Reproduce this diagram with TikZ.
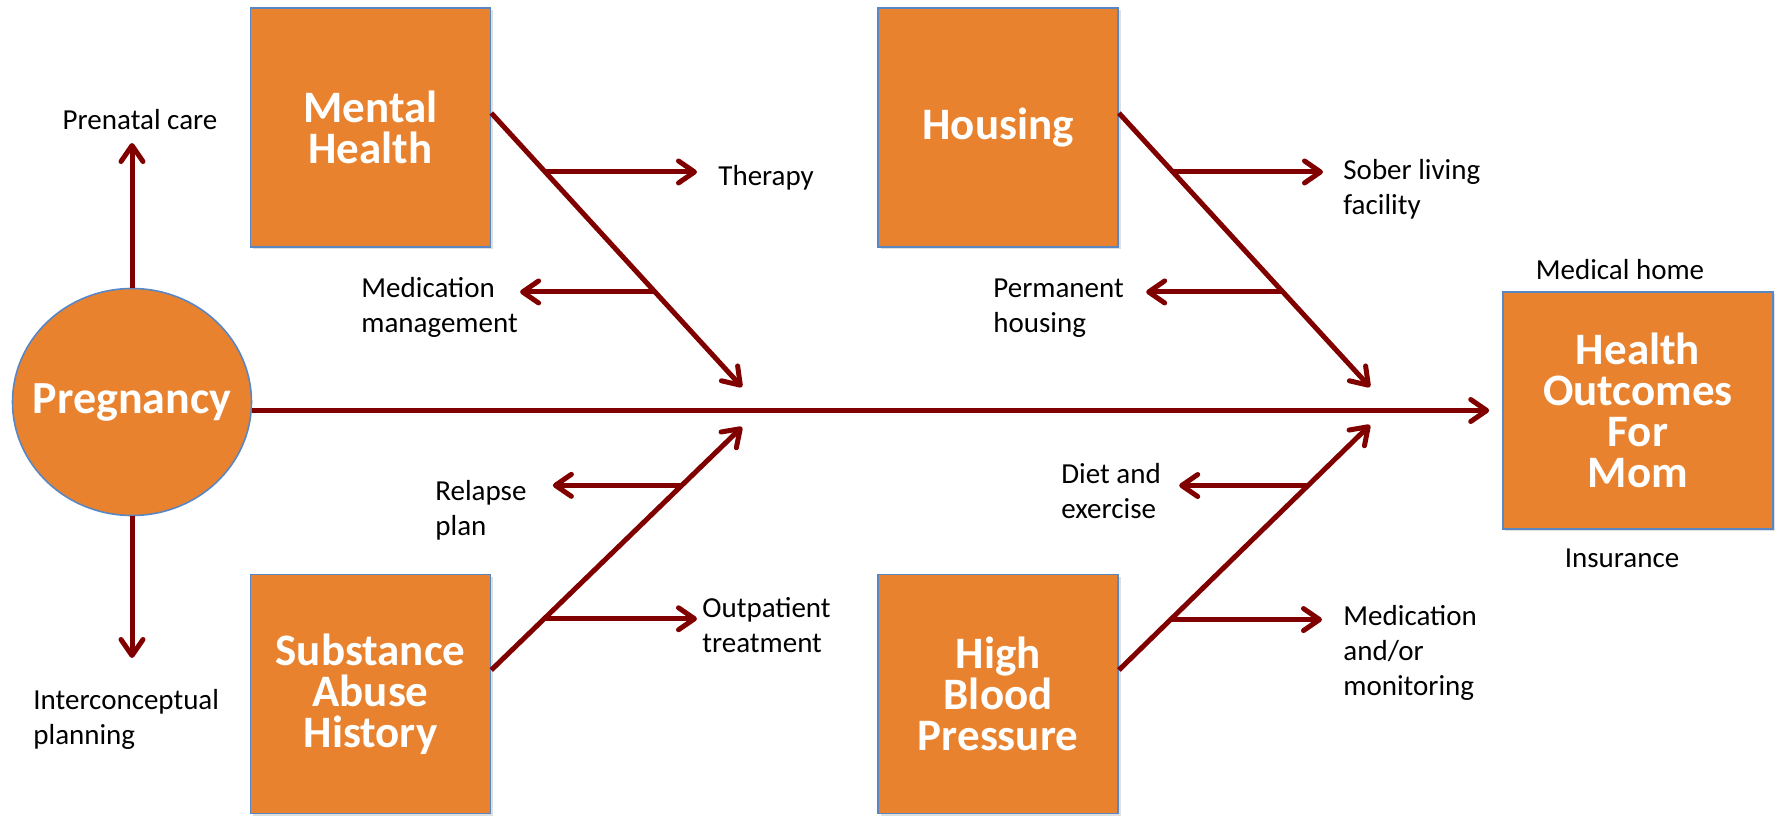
\documentclass[tikz,border=0pt]{standalone}
\usepackage{fontspec}
\setmainfont{Carlito}
\usepackage{tikz}
\usetikzlibrary{shapes,arrows.meta,positioning,calc,shadows}

\definecolor{boxfill}{RGB}{233,130,46}
\definecolor{boxline}{RGB}{88,135,196}
\definecolor{arrowred}{RGB}{128,0,0}

\begin{document}
\begin{tikzpicture}[x=0.5pt, y=-0.5pt,
    box/.style={rectangle, draw=boxline, line width=0.8pt, fill=boxfill, text=white,
        font=\bfseries\fontsize{22.5}{20.5}\selectfont, align=center,
        minimum width=120pt, minimum height=119.5pt,
        drop shadow={shadow xshift=1.2pt, shadow yshift=-1.2pt, opacity=0.25}},
    lbl/.style={font=\fontsize{14.5}{17.5}\selectfont, align=left, anchor=west, inner sep=0pt},
    arr/.style={draw=arrowred, line width=2.5pt, -{Straight Barb[length=8pt,width=11pt,round]}}]
    \useasboundingbox (0,0) rectangle (1779,815);

    % causes and effect
    \node (preg) [ellipse, draw=boxline, line width=0.8pt, fill=boxfill, minimum width=119.5pt, minimum height=113.5pt,
        label={[text=white, font=\bfseries\fontsize{23}{20}\selectfont]center:Pregnancy}] at (132,402) {};
    \node (mh) [box] at (370.5,127.5) {Mental\\Health};
    \node (ho) [box, right=193pt of mh] {Housing};
    \node (sa) [box, below=163pt of mh] {Substance\\Abuse\\History};
    \node (bp) [box, below=163pt of ho] {High\\Blood\\Pressure};
    \node (hc) [box, minimum width=135pt, minimum height=118.5pt] at (1638,410.5) {Health\\Outcomes\\For\\Mom};

    % labels
    \node (prenatal) [lbl, anchor=center] at (140,120) {Prenatal care};
    \node (intercon) [lbl] at (33,719.5) {Interconceptual\\planning};
    \node (ther) [lbl] at (718,178) {Therapy};
    \node (medm) [lbl] at (361,307) {Medication\\management};
    \node (sober) [lbl] at (1343,189) {Sober living\\facility};
    \node (perm) [lbl] at (993,308) {Permanent\\housing};
    \node (relapse) [lbl] at (435,510) {Relapse\\plan};
    \node (outp) [lbl] at (702,625.5) {Outpatient\\treatment};
    \node (diet) [lbl] at (1061,491.5) {Diet and\\exercise};
    \node (medmon) [lbl] at (1343,652.5) {Medication\\and/or\\monitoring};
    \node (medhome) [lbl, anchor=center] at (1620,270) {Medical home};
    \node (insur) [lbl, anchor=center] at (1622,558) {Insurance};

    % spine and bones
    \coordinate (upTip) at (132,143);
    \coordinate (downTip) at (132,658);
    \coordinate (mhS) at ($(mh.north east)!0.44!(mh.south east)$);
    \coordinate (hoS) at ($(ho.north east)!0.44!(ho.south east)$);
    \coordinate (saS) at ($(sa.north east)!0.40!(sa.south east)$);
    \coordinate (bpS) at ($(bp.north east)!0.40!(bp.south east)$);
    \coordinate (mhT) at (742,387);
    \coordinate (hoT) at (1370,387);
    \coordinate (saT) at (742,427);
    \coordinate (bpT) at (1370,425);

    \draw [arr, shorten >=6.5pt] (preg.east |- hc.west) -- (hc.west);
    \draw [arr] (preg.north) -- (upTip);
    \draw [arr] (preg.south) -- (downTip);
    \draw [arr] (mhS) -- (mhT);
    \draw [arr] (hoS) -- (hoT);
    \draw [arr] (saS) -- (saT);
    \draw [arr] (bpS) -- (bpT);

    % branches
    \coordinate (therB) at ($(mhS)!0.215!(mhT)$);
    \coordinate (medmB) at ($(mhS)!0.653!(mhT)$);
    \coordinate (soberB) at ($(hoS)!0.215!(hoT)$);
    \coordinate (permB) at ($(hoS)!0.653!(hoT)$);
    \coordinate (relapseB) at ($(saS)!0.76!(saT)$);
    \coordinate (outpB) at ($(saS)!0.211!(saT)$);
    \coordinate (dietB) at ($(bpS)!0.753!(bpT)$);
    \coordinate (medmonB) at ($(bpS)!0.206!(bpT)$);

    \draw [arr, shorten >=10.5pt] (therB) -- (therB -| ther.west);
    \draw [arr, shorten >=1pt] (medmB) -- (medmB -| medm.east);
    \draw [arr, shorten >=10pt] (soberB) -- (soberB -| sober.west);
    \draw [arr, shorten >=11pt] (permB) -- (permB -| perm.east);
    \draw [arr, shorten >=13pt] (relapseB) -- (relapseB -| relapse.east);
    \draw [arr, shorten >=2.5pt] (outpB) -- (outpB -| outp.west);
    \draw [arr, shorten >=9pt] (dietB) -- (dietB -| diet.east);
    \draw [arr, shorten >=10.5pt] (medmonB) -- (medmonB -| medmon.west);
\end{tikzpicture}
\end{document}
